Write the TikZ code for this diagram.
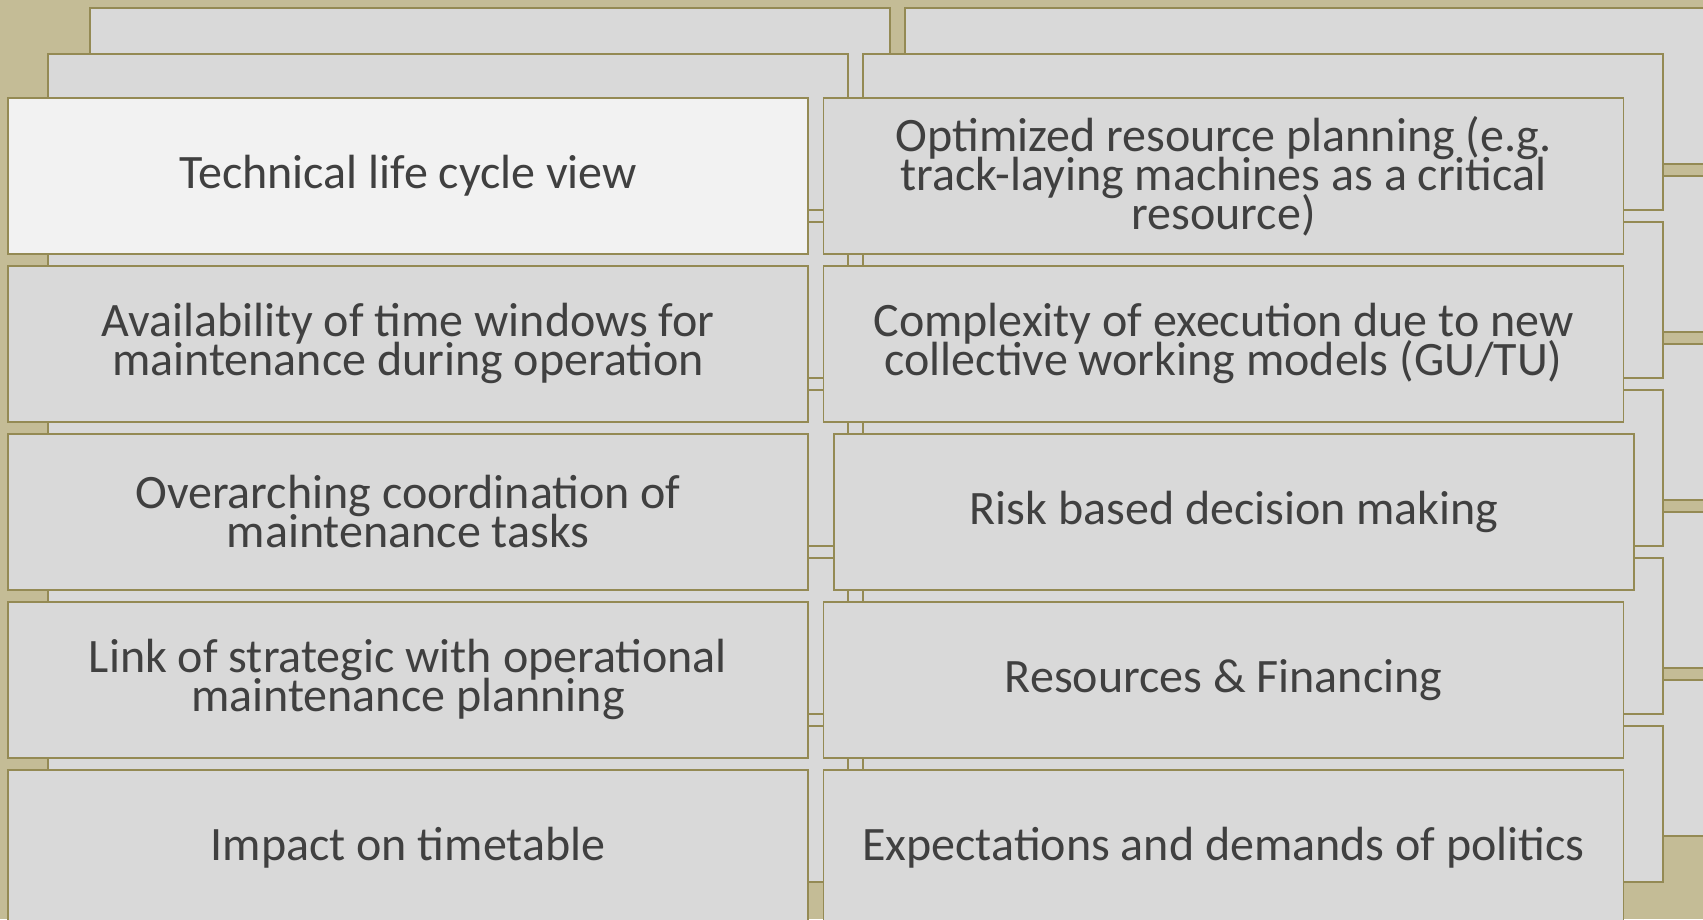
\documentclass[tikz,border=0pt]{standalone}
\usepackage{fontspec}
\setmainfont{Carlito}
\definecolor{bgtan}{HTML}{C4BC96}
\definecolor{edge}{HTML}{948A54}
\definecolor{cardfill}{HTML}{D9D9D9}
\definecolor{cardlight}{HTML}{F2F2F2}
\definecolor{txt}{HTML}{404040}
\newcommand{\cardfont}{\fontsize{48}{39}\selectfont}
\begin{document}
\setlength{\lineskiplimit}{-100pt}%
\begin{tikzpicture}[x=1pt,y=-1pt,
  card/.style={rectangle, draw=edge, line width=1.5pt, fill=cardfill,
    minimum width=800pt, minimum height=156pt, inner sep=0pt,
    align=center, text=txt, font=\cardfont}]
\useasboundingbox (0,0) rectangle (1703,919);
\clip (0,0) rectangle (1703,919);
\fill[bgtan] (0,0) rectangle (1703,919);
% back layer
\foreach \r in {0,...,4} {
  \node[card] (bL\r) at (490, 86+168*\r) {};
  \node[card] (bR\r) at (1305, 86+168*\r) {};
}
% middle layer
\foreach \r in {0,...,4} {
  \node[card] (mL\r) at (448, 132+168*\r) {};
  \node[card] (mR\r) at (1263, 132+168*\r) {};
}
% front layer
\node[card, fill=cardlight] (f1) at (408, 175.9) {Technical life cycle view};
\node[card] (f2) at (408, 343.9) {Availability of time windows for\\maintenance during operation};
\node[card] (f3) at (408, 511.9) {Overarching coordination of\\maintenance tasks};
\node[card] (f4) at (408, 679.9) {Link of strategic with operational\\maintenance planning};
\node[card] (f5) at (408, 847.9) {Impact on timetable};
\node[card] (g1) at (1223.6, 175.9) {Optimized resource planning (e.g.\\track-laying machines as a critical\\resource)};
\node[card] (g2) at (1223.6, 343.9) {Complexity of execution due to new\\collective working models (GU/TU)};
\node[card] (g3) at (1234.2, 511.9) {Risk based decision making};
\node[card] (g4) at (1223.6, 679.9) {Resources \& Financing};
\node[card] (g5) at (1223.6, 847.9) {Expectations and demands of politics};
\end{tikzpicture}
\end{document}
